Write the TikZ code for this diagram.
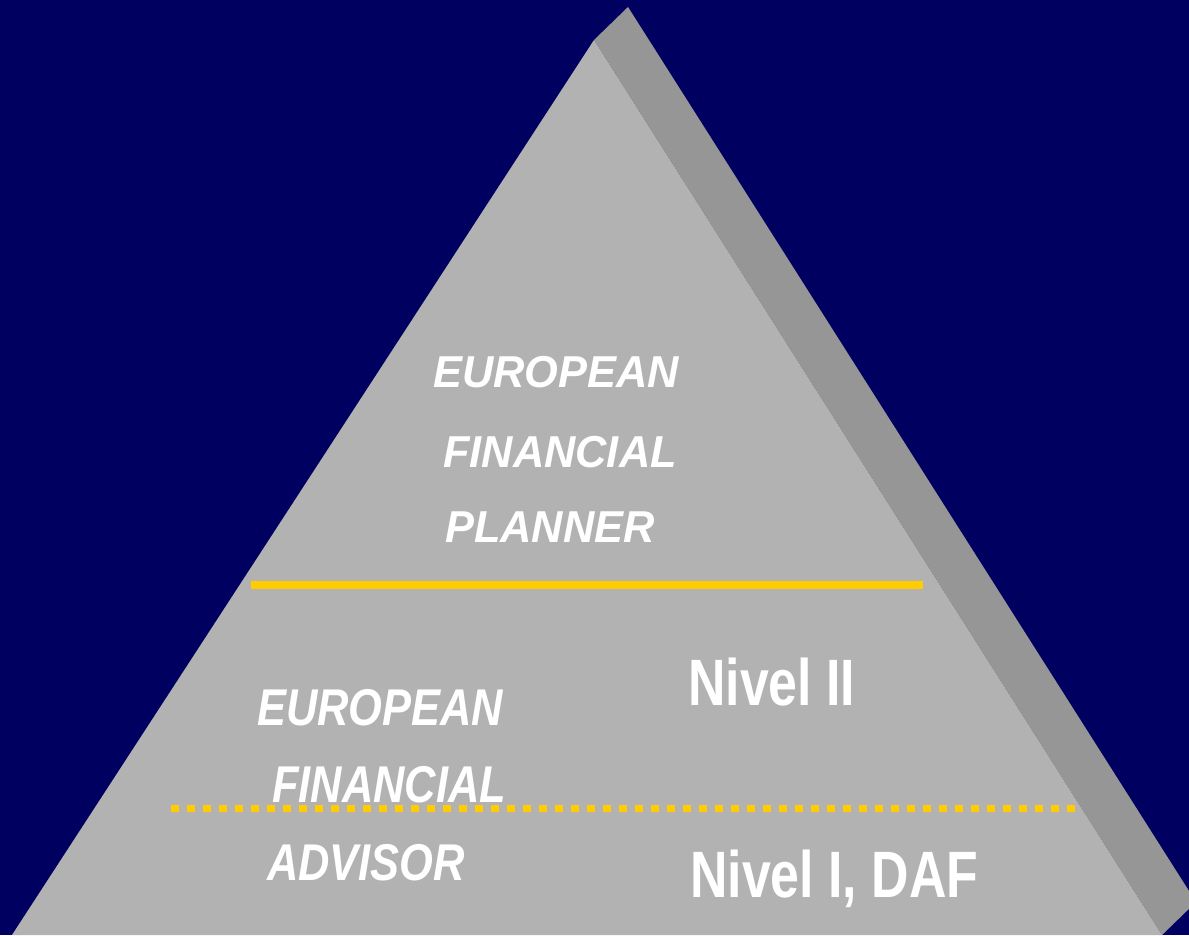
\documentclass[tikz,border=0pt]{standalone}
\usepackage{fontspec}
\setmainfont{Liberation Sans}
\newfontfamily\planfont[FakeStretch=0.97]{Liberation Sans}
\newfontfamily\advfont[FakeStretch=0.84]{Liberation Sans}
\newfontfamily\levfont[FakeStretch=0.79]{Liberation Sans}
\usepackage{tikz}
\definecolor{navy}{HTML}{000060}
\definecolor{frontgray}{HTML}{B2B2B2}
\definecolor{sidegray}{HTML}{969696}
\definecolor{gold}{HTML}{FFCC00}

\begin{document}
\begin{tikzpicture}[x=1pt, y=-1pt,
    txt/.style={anchor=base west, inner sep=0pt, text=white}]
\clip (0,0) rectangle (1189,935);
\fill[navy] (0,0) rectangle (1189,935);
\fill[sidegray] (594,40) -- (628,7) -- (1196,902) -- (1162,935) -- cycle;
\fill[frontgray] (594,40) -- (12,935) -- (1162,935) -- cycle;
\draw[gold, line width=8pt] (251,585) -- (923,585);
\node[txt, font=\planfont\fontsize{44.7}{50}\selectfont\bfseries\itshape] (eurTop) at (433,387) {EUROPEAN};
\node[txt, font=\planfont\fontsize{44.7}{50}\selectfont\bfseries\itshape] (finTop) at (443,467) {FINANCIAL};
\node[txt, font=\planfont\fontsize{44.7}{50}\selectfont\bfseries\itshape] (planTop) at (445,542) {PLANNER};
\node[txt, font=\advfont\fontsize{51.7}{56}\selectfont\bfseries\itshape] (eurLow) at (257,725) {EUROPEAN};
\node[txt, font=\advfont\fontsize{51.7}{56}\selectfont\bfseries\itshape] (finLow) at (272,802) {FINANCIAL};
\node[txt, font=\advfont\fontsize{51.7}{56}\selectfont\bfseries\itshape] (advLow) at (267,880) {ADVISOR};
\node[txt, font=\levfont\fontsize{65.6}{70}\selectfont\bfseries] (lvTwo) at (688,705) {Nivel II};
\node[txt, font=\levfont\fontsize{65.6}{70}\selectfont\bfseries] (lvOne) at (690,897) {Nivel I, DAF};
\foreach \x in {171,187,...,1067}
    \fill[gold] (\x,805) rectangle ++(8,7);
\end{tikzpicture}
\end{document}
